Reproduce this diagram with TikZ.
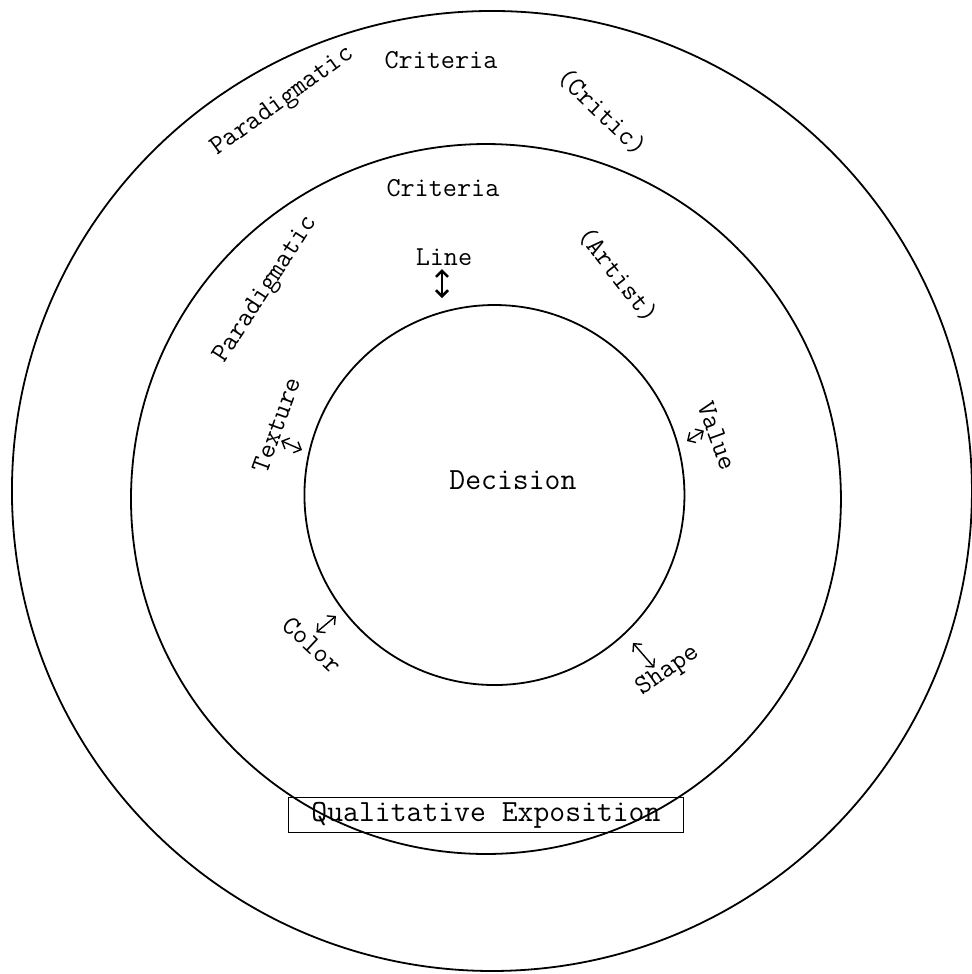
\documentclass[tikz,border=0pt]{standalone}
\usepackage{fontspec}
\usetikzlibrary{arrows.meta}

\begin{document}
\begin{tikzpicture}[
  every node/.style = {font=\ttfamily\fontsize{13.7}{16}\selectfont, inner sep=0pt},
  ring/.style       = {draw=black, line width=0.9pt},
  bigtxt/.style     = {font=\ttfamily\fontsize{15.4}{18}\selectfont},
  tag/.style        = {draw=black, line width=0.8pt, minimum width=6.94cm,
                        minimum height=0.615cm, bigtxt},
  dbl/.style        = {{Straight Barb[length=3pt,width=6pt]}-{Straight Barb[length=3pt,width=6pt]},
                        line width=0.7pt},
]
\useasboundingbox (-8.540,-8.558) rectangle (8.540,8.558);

% ── RINGS ─────────────────────────────────────────────────────────────────────
\draw[ring] (0.105,-0.070) circle (8.435);
\draw[ring] (0,-0.211)     circle (6.238);
\draw[ring] (0.149,-0.141) circle (3.339);

% ── OUTER RING (critic) ──────────────────────────────────────────────────────
\node (critO)   at (-0.791, 7.504)             {Criteria};
\node (paraO)   at (-3.567, 6.766) [rotate=36] {Paradigmatic};
\node (criticO) at ( 2.038, 6.590) [rotate=-44]{(Critic)};

% ── MIDDLE RING (artist) ─────────────────────────────────────────────────────
\node (critM)   at (-0.756, 5.254)             {Criteria};
\node (paraM)   at (-3.866, 3.462) [rotate=57] {Paradigmatic};
\node (artist)  at ( 2.320, 3.726) [rotate=-52]{(Artist)};

% ── ELEMENTS round the decision ──────────────────────────────────────────────
\node (line)    at (-0.738, 4.042)             {Line};
\node (texture) at (-3.690, 1.090) [rotate=70] {Texture};
\node (value)   at ( 4.059, 0.896) [rotate=-70]{Value};
\node (color)   at (-3.058,-2.777) [rotate=-43]{Color};
\node (shape)   at ( 3.198,-3.233) [rotate=35] {Shape};

\node[bigtxt] (dec) at (0.474, 0.123) {Decision};

% ── ARROWS ───────────────────────────────────────────────────────────────────
\coordinate (lineA)  at (-0.773, 3.830);  \coordinate (lineB)  at (-0.773, 3.321);
\coordinate (texA)   at (-3.600, 0.812);  \coordinate (texB)   at (-3.233, 0.650);
\coordinate (valA)   at ( 3.830, 0.990);  \coordinate (valB)   at ( 3.532, 0.808);
\coordinate (colA)   at (-2.636,-2.267);  \coordinate (colB)   at (-2.980,-2.555);
\coordinate (shpA)   at ( 2.583,-2.741);  \coordinate (shpB)   at ( 2.960,-3.175);

\draw[dbl, line width=1.3pt] (lineA) -- (lineB);
\draw[dbl] (texA) -- (texB);
\draw[dbl] (valA) -- (valB);
\draw[dbl] (colA) -- (colB);
\draw[dbl] (shpA) -- (shpB);

% ── EXPOSITION box ───────────────────────────────────────────────────────────
\node[tag] (expo) at (0,-5.764) {Qualitative Exposition};

\end{tikzpicture}
\end{document}
